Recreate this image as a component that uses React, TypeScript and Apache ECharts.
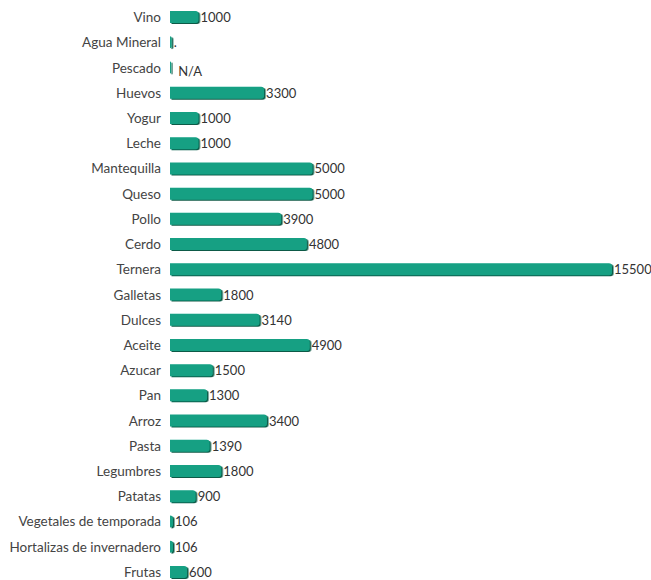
import React, { useEffect, useRef } from "react";
import * as echarts from "echarts";

const categories = [
  "Vino", "Agua Mineral", "Pescado", "Huevos", "Yogur", "Leche", "Mantequilla",
  "Queso", "Pollo", "Cerdo", "Ternera", "Galletas", "Dulces", "Aceite", "Azucar",
  "Pan", "Arroz", "Pasta", "Legumbres", "Patatas", "Vegetales de temporada",
  "Hortalizas de invernadero", "Frutas",
];
const values = [
  1000, 60, 40, 3300, 1000, 1000, 5000, 5000, 3900, 4800, 15500, 1800, 3140, 4900,
  1500, 1300, 3400, 1390, 1800, 900, 106, 106, 600,
];
const valueLabels = [
  "1000", ".", "N/A", "3300", "1000", "1000", "5000", "5000", "3900", "4800", "15500",
  "1800", "3140", "4900", "1500", "1300", "3400", "1390", "1800", "900", "106", "106", "600",
];

export default function App() {
  const ref = useRef<HTMLDivElement>(null);
  useEffect(() => {
    if (!ref.current) return;
    const chart = echarts.init(ref.current, undefined, { renderer: "svg" });
    const font = "Lato, 'Liberation Sans', sans-serif";
    chart.setOption({
      animation: false,
      backgroundColor: "#ffffff",
      grid: { left: 170, top: 4.5, width: 442, height: 580, containLabel: false },
      xAxis: {
        type: "value",
        min: 0,
        max: 15500,
        show: false,
      },
      yAxis: {
        type: "category",
        data: categories,
        inverse: true,
        axisLine: { show: false },
        axisTick: { show: false },
        splitLine: { show: false },
        axisLabel: { color: "#444", fontSize: 13.5, fontFamily: font, margin: 9 },
      },
      series: [
        {
          type: "bar",
          barWidth: 12,
          data: values.map((v, i) => ({
            value: v,
            label: i === 2 ? { offset: [5, 3] } : undefined,
          })),
          itemStyle: {
            color: "#14a083",
            borderRadius: [0, 3, 3, 0],
            shadowColor: "#0b5a46",
            shadowOffsetX: 1.5,
            shadowOffsetY: 1,
            shadowBlur: 0,
          },
          label: {
            show: true,
            position: "right",
            distance: 2,
            color: "#333",
            fontSize: 13,
            fontFamily: font,
            formatter: (p: any) => valueLabels[p.dataIndex],
          },
        },
      ],
    });
    return () => chart.dispose();
  }, []);
  return (
    <div
      style={{
        position: "absolute",
        left: 0,
        top: 0,
        width: 651,
        height: 580,
        overflow: "hidden",
        background: "#fff",
      }}
    >
      <div ref={ref} style={{ width: 651, height: 600 }} />
    </div>
  );
}
